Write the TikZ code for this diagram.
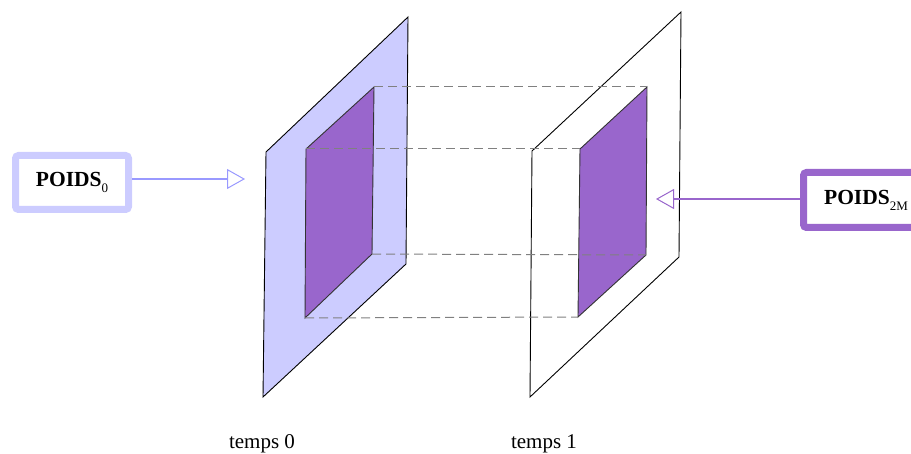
\documentclass[tikz,border=0pt]{standalone}
\usepackage{fontspec}
\setmainfont{Liberation Serif}
\usetikzlibrary{arrows.meta}
\definecolor{lav}{HTML}{CCCCFF}
\definecolor{purp}{HTML}{9966CC}
\definecolor{lavline}{HTML}{9999FF}
\definecolor{dashgray}{HTML}{808080}
\begin{document}
\begin{tikzpicture}[x=1pt,y=-1pt,
  plane/.style={draw=black, line width=0.9pt, line join=miter},
  inner/.style={draw=black!80, line width=0.9pt, fill=purp},
  guide/.style={draw=dashgray, line width=1pt, dash pattern=on 9pt off 5pt},
  weightbox/.style={line width=7pt, rounded corners=3pt, fill=white, inner sep=0pt,
    font=\fontsize{21.5}{24}\selectfont\bfseries},
  label/.style={font=\fontsize{21}{24}\selectfont, inner sep=0pt, anchor=base}]
\useasboundingbox (0,0) rectangle (911,454);
\clip (0,0) rectangle (911,454);
% left plane
\coordinate (L1) at (266,152); \coordinate (L2) at (408,17);
\coordinate (L3) at (406,264); \coordinate (L4) at (263,397);
\coordinate (a1) at (306,149); \coordinate (a2) at (374,87);
\coordinate (a3) at (372,254); \coordinate (a4) at (305,318);
% right plane
\coordinate (R1) at (532,151); \coordinate (R2) at (681,12);
\coordinate (R3) at (679,257); \coordinate (R4) at (530,397);
\coordinate (b1) at (580,149); \coordinate (b2) at (647,87);
\coordinate (b3) at (646,255); \coordinate (b4) at (578,317);
\path[plane, fill=lav] (L1) -- (L2) -- (L3) -- (L4) -- cycle;
\path[inner] (a1) -- (a2) -- (a3) -- (a4) -- cycle;
\path[plane, fill=white] (R1) -- (R2) -- (R3) -- (R4) -- cycle;
\path[inner] (b1) -- (b2) -- (b3) -- (b4) -- cycle;
% guides
\draw[guide] (a2) -- (b2);
\draw[guide] (a1) -- (b1);
\draw[guide] (a3) -- (b3);
\draw[guide] (a4) -- (b4);
% weight boxes
\node[weightbox, draw=lav, minimum width=113pt, minimum height=54pt] (p0) at (72,182.5)
  {POIDS\raisebox{-0.28em}{\fontsize{13}{13}\selectfont\mdseries 0}};
\node[weightbox, draw=purp, minimum width=125pt, minimum height=55pt] (p2) at (866,200)
  {POIDS\raisebox{-0.28em}{\fontsize{13}{13}\selectfont\mdseries 2M}};
\coordinate (tipL) at (245,179);
\coordinate (tipR) at (656,199);
\draw[draw=lavline, line width=1.2pt, -{Triangle[open, length=18pt, width=20pt, line width=1pt]}]
  (p0.east |- tipL) -- (tipL);
\draw[draw=purp, line width=1.2pt, -{Triangle[open, length=18pt, width=20pt, line width=1pt]}]
  (p2.west |- tipR) -- (tipR);
% labels
\node[label] (t0) at (262,448) {temps 0};
\node[label] (t1) at (544,448) {temps 1};
\end{tikzpicture}
\end{document}
